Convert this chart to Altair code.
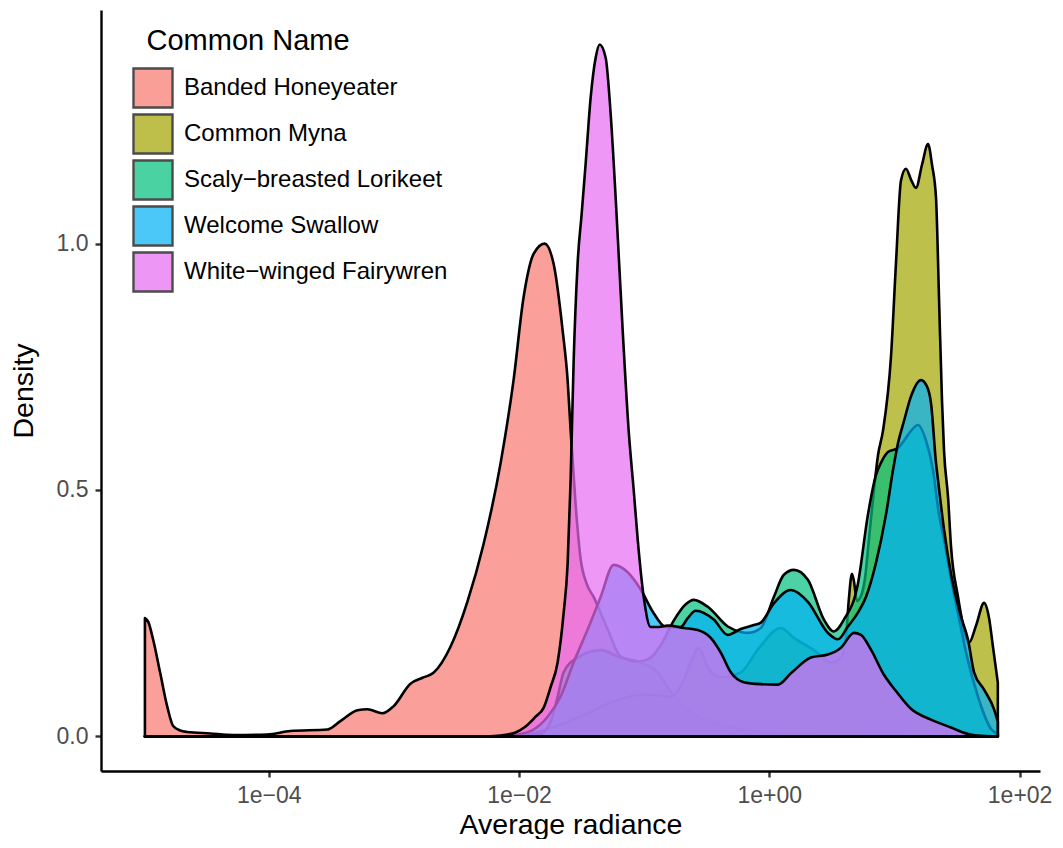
import altair as alt
import pandas as pd

species = ["Banded Honeyeater", "Common Myna", "Scaly−breasted Lorikeet",
           "Welcome Swallow", "White−winged Fairywren"]
colors = ["#F8766D", "#A3A500", "#00BF7D", "#00B0F6", "#E76BF3"]

# log10(average radiance) and density
banded_log = [-4.99, -4.964, -4.924, -4.868, -4.812, -4.764, -4.708, -4.652, -4.468, -4.284,
              -4.012, -3.828, -3.532, -3.428, -3.292, -3.212, -3.092, -3.004, -2.868, -2.772,
              -2.684, -2.548, -2.412, -2.284, -2.148, -2.044, -1.964, -1.884, -1.796, -1.724,
              -1.652, -1.612, -1.588, -1.548, -1.508, -1.46, -1.404, -1.292, -1.188, -1.028,
              -0.892, -0.788, -0.628, -0.468, -0.228, 0.092, 0.652, 1.826]
banded_density = [0.240, 0.233, 0.196, 0.129, 0.061, 0.021, 0.012, 0.009, 0.006, 0.003,
                  0.004, 0.011, 0.014, 0.031, 0.053, 0.055, 0.047, 0.061, 0.107, 0.119,
                  0.129, 0.182, 0.274, 0.390, 0.554, 0.723, 0.891, 0.979, 1.000, 0.959,
                  0.824, 0.723, 0.621, 0.470, 0.360, 0.310, 0.283, 0.217, 0.162, 0.150,
                  0.130, 0.090, 0.050, 0.030, 0.015, 0.006, 0.002, 0.0]

myna_log = [-4.99, -2.068, -1.828, -1.668, -1.468, -1.268, -1.004, -0.788, -0.692, -0.628,
            -0.564, -0.492, -0.388, -0.228, -0.092, 0.092, 0.196, 0.356, 0.492, 0.572,
            0.612, 0.636, 0.660, 0.676, 0.700, 0.732, 0.764, 0.796, 0.836, 0.868,
            0.908, 0.972, 1.012, 1.052, 1.092, 1.132, 1.172, 1.220, 1.268, 1.300,
            1.332, 1.356, 1.380, 1.396, 1.428, 1.452, 1.508, 1.556, 1.596, 1.652,
            1.716, 1.756, 1.788, 1.826]
myna_density = [0.0, 0.0, 0.010, 0.024, 0.045, 0.069, 0.085, 0.081, 0.110, 0.150,
                0.180, 0.140, 0.120, 0.130, 0.176, 0.220, 0.200, 0.175, 0.150, 0.160,
                0.200, 0.280, 0.330, 0.315, 0.275, 0.285, 0.320, 0.400, 0.500, 0.570,
                0.620, 0.770, 0.960, 1.128, 1.152, 1.130, 1.113, 1.160, 1.202, 1.160,
                1.093, 0.890, 0.680, 0.580, 0.486, 0.385, 0.283, 0.217, 0.190, 0.225,
                0.271, 0.240, 0.180, 0.109]

scaly_log = [-4.99, -1.988, -1.828, -1.748, -1.692, -1.644, -1.532, -1.348, -1.188, -1.052,
             -0.948, -0.868, -0.764, -0.668, -0.604, -0.492, -0.332, -0.228, -0.172, -0.068,
             0.036, 0.116, 0.196, 0.308, 0.436, 0.516, 0.596, 0.708, 0.788, 0.852,
             0.892, 0.948, 1.028, 1.076, 1.132, 1.188, 1.252, 1.308, 1.356, 1.396,
             1.452, 1.508, 1.572, 1.668, 1.772, 1.826]
scaly_density = [0.0, 0.0, 0.005, 0.030, 0.080, 0.130, 0.160, 0.175, 0.160, 0.152,
                 0.160, 0.185, 0.235, 0.268, 0.277, 0.263, 0.223, 0.212, 0.210, 0.220,
                 0.283, 0.328, 0.338, 0.318, 0.237, 0.213, 0.237, 0.310, 0.450, 0.530,
                 0.555, 0.577, 0.585, 0.600, 0.620, 0.632, 0.600, 0.540, 0.450, 0.400,
                 0.320, 0.250, 0.170, 0.080, 0.015, 0.005]

swallow_log = [-4.99, -2.148, -1.988, -1.884, -1.772, -1.668, -1.564, -1.452, -1.348, -1.244,
               -1.132, -1.028, -0.924, -0.828, -0.708, -0.652, -0.588, -0.444, -0.332, -0.228,
               -0.124, -0.068, 0.036, 0.172, 0.308, 0.468, 0.548, 0.628, 0.708, 0.772,
               0.852, 0.932, 0.988, 1.028, 1.076, 1.132, 1.212, 1.260, 1.292, 1.332,
               1.348, 1.396, 1.452, 1.532, 1.588, 1.636, 1.716, 1.796, 1.826]
swallow_density = [0.0, 0.0, 0.005, 0.014, 0.040, 0.081, 0.150, 0.217, 0.283, 0.348,
                   0.333, 0.298, 0.250, 0.222, 0.222, 0.240, 0.255, 0.237, 0.206, 0.218,
                   0.226, 0.231, 0.270, 0.297, 0.273, 0.210, 0.197, 0.223, 0.251, 0.283,
                   0.352, 0.450, 0.540, 0.595, 0.640, 0.690, 0.723, 0.710, 0.676, 0.555,
                   0.520, 0.420, 0.330, 0.243, 0.196, 0.130, 0.095, 0.055, 0.030]

fairy_log = [-4.99, -2.308, -2.148, -2.028, -1.948, -1.868, -1.804, -1.748, -1.692, -1.644,
             -1.612, -1.588, -1.564, -1.532, -1.500, -1.468, -1.428, -1.388, -1.356, -1.308,
             -1.268, -1.228, -1.172, -1.124, -1.084, -1.052, -1.004, -0.948, -0.884, -0.812,
             -0.684, -0.572, -0.468, -0.388, -0.308, -0.204, -0.068, 0.068, 0.172, 0.332,
             0.468, 0.572, 0.676, 0.732, 0.812, 0.916, 1.012, 1.132, 1.292, 1.452,
             1.588, 1.692, 1.826]
fairy_density = [0.0, 0.0, 0.002, 0.008, 0.020, 0.040, 0.058, 0.100, 0.150, 0.250,
                 0.350, 0.520, 0.760, 0.960, 1.060, 1.162, 1.296, 1.377, 1.404, 1.377,
                 1.263, 1.093, 0.824, 0.620, 0.500, 0.400, 0.283, 0.222, 0.222, 0.225,
                 0.220, 0.216, 0.200, 0.170, 0.130, 0.110, 0.106, 0.105, 0.128, 0.160,
                 0.166, 0.180, 0.210, 0.206, 0.176, 0.125, 0.092, 0.056, 0.034, 0.018,
                 0.005, 0.001, 0.0]

x_ticks = [1e-4, 1e-2, 1.0, 100.0]
x_tick_labels = ["1e−04", "1e−02", "1e+00", "1e+02"]
y_ticks = [0.0, 0.5, 1.0]

series_log = [banded_log, myna_log, scaly_log, swallow_log, fairy_log]
series_density = [banded_density, myna_density, scaly_density, swallow_density, fairy_density]

x_domain = [10 ** -5.341, 10 ** 2.163]
y_domain = [-0.0702, 1.474]

label_expr = ""
for v, lab in zip(x_ticks, x_tick_labels):
    label_expr += f"abs(datum.value - {v}) < {v} * 0.01 ? '{lab}' : "
label_expr += "''"

color = alt.Color(
    "species:N",
    scale=alt.Scale(domain=species, range=colors),
    title="\u200b\u2002Common Name",
    legend=alt.Legend(
        orient="none", legendX=31, legendY=17,
        symbolType="square", symbolSize=1521, symbolOpacity=0.7,
        symbolStrokeColor="black", symbolStrokeWidth=2.4,
        rowPadding=-16, labelOffset=10, labelLimit=500, titleLimit=500,
        titleFontSize=29, titleFontWeight="normal", titleColor="black",
        titlePadding=11, labelFontSize=24, labelColor="black",
    ),
)

layers = []
for name, logs, dens in zip(species, series_log, series_density):
    df = pd.DataFrame({
        "species": name,
        "radiance": [10 ** l for l in logs],
        "density": dens,
    })
    layer = alt.Chart(df).mark_area(
        interpolate="monotone", stroke="black", strokeWidth=2.6,
        fillOpacity=0.7, strokeJoin="round",
    ).encode(
        x=alt.X("radiance:Q",
                scale=alt.Scale(type="log", domain=x_domain, nice=False),
                axis=alt.Axis(values=x_ticks, labelExpr=label_expr, title="Average radiance",
                              labelFlush=False, labelPadding=7, titlePadding=3)),
        y=alt.Y("density:Q", stack=None,
                scale=alt.Scale(domain=y_domain, nice=False, zero=False),
                axis=alt.Axis(values=y_ticks, format=".1f", title="Density",
                              labelPadding=7, titlePadding=18)),
        y2=alt.datum(0),
        color=color,
    )
    layers.append(layer)

chart = alt.layer(*layers).properties(
    width=939, height=761,
    autosize=alt.AutoSizeParams(type="none"),
    padding={"left": 93, "top": 2, "right": 15, "bottom": 68},
).configure_view(stroke=None).configure_axis(
    grid=False, domainColor="black", domainWidth=2.4,
    tickColor="#333333", tickWidth=2.4, tickSize=6,
    labelColor="#4D4D4D", labelFontSize=23, labelFont="Liberation Sans",
    titleFontSize=28.5, titleFont="Liberation Sans", titleColor="black",
    titleFontWeight="normal",
).configure_legend(labelFont="Liberation Sans", titleFont="Liberation Sans")

chart.save("out.html", embed_options={"renderer": "svg", "actions": False})
